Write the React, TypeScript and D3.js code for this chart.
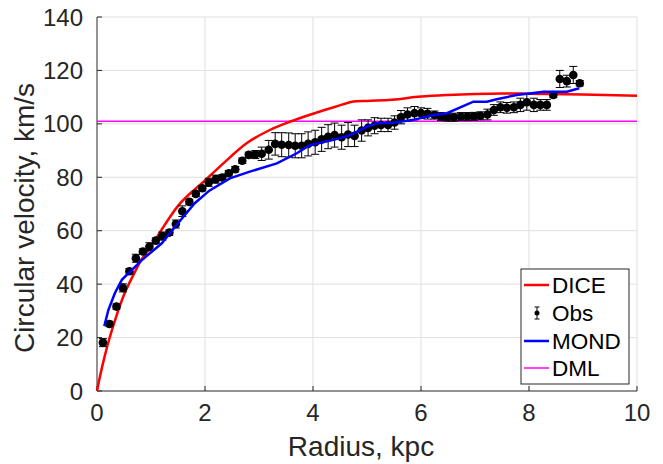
import React from "react";
import * as d3 from "d3";

const xTicks = [0, 2, 4, 6, 8, 10];
const yTicks = [0, 20, 40, 60, 80, 100, 120, 140];

const obsR = [0.11, 0.23, 0.36, 0.48, 0.6, 0.72, 0.85, 0.97, 1.09, 1.21, 1.34, 1.46, 1.58, 1.71, 1.83, 1.95, 2.07, 2.2, 2.32, 2.44, 2.56, 2.69, 2.81, 2.93, 3.05, 3.18, 3.3, 3.42, 3.55, 3.67, 3.79, 3.91, 4.04, 4.16, 4.28, 4.4, 4.53, 4.65, 4.77, 4.9, 5.02, 5.14, 5.26, 5.39, 5.51, 5.63, 5.75, 5.88, 6.0, 6.12, 6.25, 6.37, 6.49, 6.61, 6.74, 6.86, 6.98, 7.1, 7.23, 7.35, 7.47, 7.59, 7.72, 7.84, 7.96, 8.09, 8.21, 8.33, 8.45, 8.57, 8.7, 8.82, 8.94];
const obsV = [18.1, 25.1, 31.6, 38.6, 44.8, 49.7, 52.2, 54.0, 56.3, 58.0, 59.3, 62.5, 67.3, 70.8, 73.8, 75.9, 78.1, 79.3, 79.9, 81.5, 83.0, 86.2, 88.4, 88.5, 88.8, 90.3, 92.5, 92.2, 92.1, 91.8, 91.8, 92.5, 93.1, 94.2, 95.2, 95.8, 95.0, 96.0, 95.5, 97.5, 98.5, 99.3, 99.6, 99.6, 100.5, 102.5, 103.5, 104.0, 104.0, 103.8, 103.3, 102.7, 102.5, 102.5, 102.7, 102.7, 102.8, 103.0, 103.5, 105.2, 106.2, 106.0, 106.2, 107.1, 108.1, 107.1, 107.1, 107.1, 110.8, 116.8, 116.0, 118.3, 115.2];
const obsErr = [1.5, 1, 1, 1.5, 1, 1.5, 1, 1.5, 1, 1.5, 1, 1.5, 2, 1, 1, 1, 1.5, 1.5, 1, 1, 1, 1, 1, 1.5, 2.5, 3.5, 4.2, 4.5, 4.5, 4.5, 4.5, 4.5, 4.5, 4.5, 4.5, 4.5, 4.5, 4.5, 4, 4, 3, 3, 2.5, 2.5, 2.5, 2.5, 2.5, 2.5, 2, 2, 1.5, 1.5, 1.5, 1.5, 1.5, 1.5, 1.5, 1.5, 2, 2, 2, 2, 2, 2.5, 3, 2.5, 2, 2, 1, 3.2, 2.2, 3.2, 1];

const diceR = [0, 0.05, 0.1, 0.2, 0.35, 0.5, 0.7, 0.8, 1.0, 1.2, 1.5, 2.0, 2.34, 2.77, 3.2, 3.57, 4.0, 4.4, 4.8, 5.0, 5.4, 6.0, 6.5, 7.0, 7.5, 8.0, 9.0, 10.0];
const diceV = [0, 5, 9.5, 17.5, 27.5, 36, 44.5, 48.4, 54, 60.5, 69.3, 78.8, 85.2, 92.7, 97.7, 100.8, 103.8, 106.3, 108.5, 108.6, 108.9, 110.2, 110.8, 111.2, 111.4, 111.3, 111.0, 110.5];

const mondR = [0.135, 0.21, 0.33, 0.46, 0.58, 0.83, 1.2, 1.5, 1.81, 2.08, 2.46, 2.83, 3.33, 3.7, 3.94, 4.38, 4.69, 5.0, 5.18, 5.49, 5.86, 6.23, 6.48, 6.97, 7.22, 7.4, 7.77, 8.27, 8.7, 8.93];
const mondV = [24.3, 30.3, 36.6, 41.6, 44.0, 49.0, 55.3, 62.8, 70.3, 75.0, 79.6, 82.1, 85.2, 89.0, 92.0, 94.0, 95.8, 99.0, 100.2, 100.4, 101.5, 103.3, 104.0, 108.3, 108.3, 109.2, 110.8, 112.0, 112.0, 113.3];

const dmlV = 101;

const legendItems = ["DICE", "Obs", "MOND", "DML"];

const W = 663;
const H = 464;
const left = 97;
const right = 637;
const top = 17;
const bottom = 391;
const FONT = "'Liberation Sans', Arial, Helvetica, sans-serif";
const AX = "#262626";

export default function App() {
  const x = d3.scaleLinear().domain([0, 10]).range([left, right]);
  const y = d3.scaleLinear().domain([0, 140]).range([bottom, top]);

  const dice = d3.line<number>().x((d, i) => x(diceR[i])).y((d) => y(d)).curve(d3.curveMonotoneX)(diceV) || "";
  const mond = d3.line<number>().x((d, i) => x(mondR[i])).y((d) => y(d))(mondV) || "";

  const lx = 521;
  const ly = 269;
  const lw = 108;
  const lh = 115;
  const rowY = [285, 313, 341, 368];

  return (
    <svg width={W} height={H} style={{ position: "absolute", left: 0, top: 0, background: "#fff" }}>
      <rect x={0} y={0} width={W} height={H} fill="#fff" />
      {xTicks.filter((t) => t > 0).map((t) => (
        <line key={"gx" + t} x1={x(t)} x2={x(t)} y1={top} y2={bottom} stroke="#dfdfdf" strokeWidth={1} />
      ))}
      {yTicks.filter((t) => t > 0).map((t) => (
        <line key={"gy" + t} x1={left} x2={right} y1={y(t)} y2={y(t)} stroke="#dfdfdf" strokeWidth={1} />
      ))}
      <line x1={left} x2={right} y1={bottom} y2={bottom} stroke={AX} strokeWidth={1} />
      <line x1={left} x2={left} y1={top} y2={bottom} stroke={AX} strokeWidth={1} />
      {xTicks.map((t) => (
        <g key={"xt" + t}>
          <line x1={x(t)} x2={x(t)} y1={bottom} y2={bottom - 5} stroke={AX} />
          <text x={x(t)} y={bottom + 30} textAnchor="middle" fontFamily={FONT} fontSize={24} fill={AX}>{t}</text>
        </g>
      ))}
      {yTicks.map((t) => (
        <g key={"yt" + t}>
          <line x1={left} x2={left + 5} y1={y(t)} y2={y(t)} stroke={AX} />
          <text x={left - 14} y={y(t) + 8.5} textAnchor="end" fontFamily={FONT} fontSize={24} fill={AX}>{t}</text>
        </g>
      ))}
      <text x={361} y={456} textAnchor="middle" fontFamily={FONT} fontSize={28} fill={AX}>Radius, kpc</text>
      <text transform={`translate(34,218) rotate(-90)`} textAnchor="middle" fontFamily={FONT} fontSize={28} fill={AX}>Circular velocity, km/s</text>

      <line x1={left} x2={right} y1={y(dmlV)} y2={y(dmlV)} stroke="#ff00ff" strokeWidth={1.5} />
      <path d={dice} fill="none" stroke="#ff0000" strokeWidth={2.5} />
      {obsV.map((v, i) => (
        <g key={"o" + i}>
          <line x1={x(obsR[i])} x2={x(obsR[i])} y1={y(v - obsErr[i])} y2={y(v + obsErr[i])} stroke="#000" strokeWidth={1} />
          <line x1={x(obsR[i]) - 4} x2={x(obsR[i]) + 4} y1={y(v - obsErr[i])} y2={y(v - obsErr[i])} stroke="#000" strokeWidth={1} />
          <line x1={x(obsR[i]) - 4} x2={x(obsR[i]) + 4} y1={y(v + obsErr[i])} y2={y(v + obsErr[i])} stroke="#000" strokeWidth={1} />
          <circle cx={x(obsR[i])} cy={y(v)} r={4.3} fill="#000" />
        </g>
      ))}
      <path d={mond} fill="none" stroke="#0000ff" strokeWidth={2.5} />

      <rect x={lx} y={ly} width={lw} height={lh} fill="#fff" stroke={AX} strokeWidth={1} />
      {legendItems.map((name, i) => {
        const cy = rowY[i];
        let icon;
        if (name === "Obs") {
          icon = (
            <g>
              <line x1={537} x2={537} y1={cy - 6} y2={cy + 6} stroke="#000" />
              <line x1={534.5} x2={539.5} y1={cy - 6} y2={cy - 6} stroke="#000" />
              <line x1={534.5} x2={539.5} y1={cy + 6} y2={cy + 6} stroke="#000" />
              <circle cx={537} cy={cy} r={2.5} fill="#000" />
            </g>
          );
        } else {
          const col = name === "DICE" ? "#ff0000" : name === "MOND" ? "#0000ff" : "#ff00ff";
          icon = <line x1={524} x2={549} y1={cy} y2={cy} stroke={col} strokeWidth={name === "DML" ? 1.5 : 2.5} />;
        }
        return (
          <g key={name}>
            {icon}
            <text x={552} y={cy + 8} fontFamily={FONT} fontSize={22.5} fill="#000">{name}</text>
          </g>
        );
      })}
    </svg>
  );
}
